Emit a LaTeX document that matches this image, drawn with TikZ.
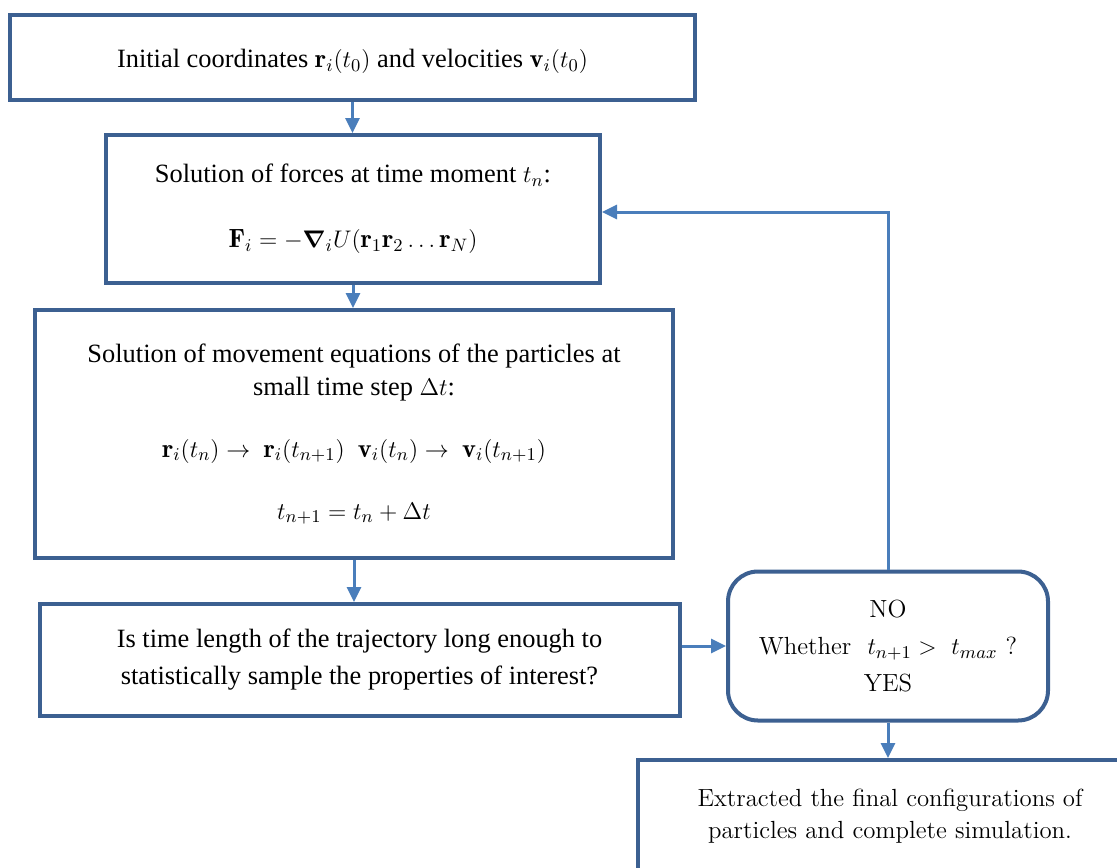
\documentclass[tikz,border=0pt]{standalone}
\usepackage{amsmath}
\usepackage{amssymb}
\usepackage{fontspec}
\newfontfamily\timesfont{Liberation Serif}
\usetikzlibrary{arrows.meta, calc, positioning}
\definecolor{boxblue}{RGB}{60,96,145}
\definecolor{arrowblue}{RGB}{74,126,187}

\begin{document}
\begin{tikzpicture}[x=0.5pt, y=-0.5pt, % one unit = one pixel of the layout
          > = {Triangle[length=7.5pt, width=7pt]},
  box/.style = {draw=boxblue, line width=2pt, fill=white,
                inner sep=0pt, align=center,
                font=\timesfont\fontsize{13.2}{18.5}\selectfont},
 test/.style = {box, rounded corners=15pt,
                font=\fontsize{12.4}{18.5}\selectfont},
 link/.style = {draw=arrowblue, line width=1.5pt, ->}
                    ]
	\path[use as bounding box, clip] (0,0) rectangle (1117,867);

	% main chain of steps
	\node[box, minimum width=342.5pt, minimum height=42.5pt,
	      text height=11pt, text depth=1pt] (init) at (352.5,57.5)
		{Initial coordinates $\mathbf{r}_i(t_0)$ and velocities $\mathbf{v}_i(t_0)$};
	\node[box, minimum width=247pt, minimum height=74pt] (forces) at (353,209)
		{Solution of forces at time moment $t_n$:\\[14pt]
		 $\mathbf{F}_i = -\boldsymbol{\nabla}_i U(\mathbf{r}_1\mathbf{r}_2 \ldots \mathbf{r}_N)$};
	\node[box, minimum width=319pt, minimum height=124pt] (motion) at (354,434)
		{Solution of movement equations of the particles at\\[-2pt]
		 small time step $\Delta t$:\\[12.5pt]
		 $\mathbf{r}_i(t_n) \rightarrow\ \mathbf{r}_i(t_{n+1})\ \ \mathbf{v}_i(t_n) \rightarrow\ \mathbf{v}_i(t_{n+1})$\\[12.5pt]
		 $t_{n+1} = t_n + \Delta t$};
	\node[box, minimum width=320pt, minimum height=56pt] (length) at (359.5,660)
		{Is time length of the trajectory long enough to\\
		 statistically sample the properties of interest?};

	% decision and end
	\node[test, minimum width=160pt, minimum height=74.5pt] (check) at (888,646)
		{NO\\Whether\ \ $t_{n+1} >\ t_{max}$ ?\\YES};
	\node[box, font=\fontsize{12.4}{16}\selectfont,
	      minimum width=252pt, minimum height=56pt] (final) at (890,816)
		{Extracted the final configurations of\\
		 particles and complete simulation.};

	% connectors
	\draw[link] (init.south) -- (init.south |- forces.north);
	\draw[link] (forces.south) -- (forces.south |- motion.north);
	\draw[link] (motion.south) -- (motion.south |- length.north);
	\draw[link] (check.west -| length.east) -- (check.west);
	\draw[link] (check.north) |- ([yshift=-1.5pt]forces.east);
	\draw[link] (check.south) -- (check.south |- final.north);
\end{tikzpicture}
\end{document}
